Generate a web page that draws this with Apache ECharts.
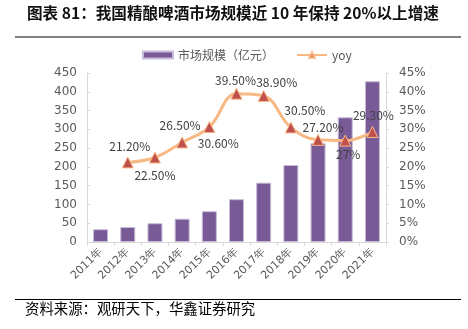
<!DOCTYPE html>
<html><head><meta charset="utf-8">
<script src="https://cdn.jsdelivr.net/npm/echarts@6/dist/echarts.min.js"></script>
<style>html,body{margin:0;padding:0;background:#fff;}#c{width:468px;height:329px;}</style>
</head><body><div id="c"></div>
<script>
var categories = ['2011年','2012年','2013年','2014年','2015年','2016年','2017年','2018年','2019年','2020年','2021年'];
var marketSize = [34, 40, 50, 62, 82, 114, 158, 205, 263, 332, 428];
var yoy = [null, 21.2, 22.5, 26.5, 30.6, 39.5, 38.9, 30.5, 27.2, 27, 29.3];
var leftTicks = [0, 50, 100, 150, 200, 250, 300, 350, 400, 450];
var rightTicks = [0, 5, 10, 15, 20, 25, 30, 35, 40, 45];
var title = '图表 81：我国精酿啤酒市场规模近 10 年保持 20%以上增速';
var source = '资料来源：观研天下，华鑫证券研究';

// label placement per point [dx, dy]
var labelOffsets = [null, [2,-16], [0,18], [-2,-17], [9,16], [-1,-13], [13,-13], [14,-17], [5,-12], [3,14], [1,-17]];

var chart = echarts.init(document.getElementById('c'), null, {renderer:'canvas'});
var cjk = '"Noto Sans CJK SC", sans-serif';
var yoyData = yoy.map(function(v, i){
  if (v === null) return null;
  var o = labelOffsets[i];
  return {value: v, label: {offset: [o[0], o[1]]}};
});
chart.setOption({
  animation: false,
  graphic: [
    {type:'text', left: 27, top: 5, style:{text: title, font: 'bold 15.6px ' + cjk, fill:'#111'}},
    {type:'line', shape:{x1:15, y1:37, x2:461, y2:37}, style:{stroke:'#7f7f7f', lineWidth:2}},
    {type:'line', shape:{x1:15, y1:299.5, x2:461, y2:299.5}, style:{stroke:'#000', lineWidth:1}},
    {type:'text', left: 25, top: 301, style:{text: source, font: '14.4px ' + cjk, fill:'#000'}}
  ],
  legend: {
    top: 44, left: 137, itemWidth: 30, itemHeight: 7, itemGap: 22,
    textStyle: {fontSize: 12, color: '#595959', fontFamily: cjk},
    data: [{name:'市场规模（亿元）', icon:'rect'}, {name:'yoy'}]
  },
  grid: {left: 87, right: 82, top: 73, bottom: 87},
  xAxis: {
    type: 'category', data: categories,
    axisLine: {lineStyle: {color: '#D9D9D9'}},
    axisTick: {show: true, length: 4, lineStyle: {color: '#D9D9D9'}},
    axisLabel: {rotate: 45, fontSize: 11, color: '#595959', margin: 8, fontFamily: 'Verdana, "DejaVu Sans", sans-serif'}
  },
  yAxis: [
    {type:'value', min: 0, max: 450, interval: 50, splitLine:{show:false},
     axisLine:{show:true, lineStyle:{color:'#D9D9D9'}},
     axisTick:{show:true, inside:true, length:3, lineStyle:{color:'#D9D9D9'}},
     axisLabel:{fontSize: 12, color:'#595959', margin: 10, fontFamily: 'Verdana, "DejaVu Sans", sans-serif'}},
    {type:'value', min: 0, max: 45, interval: 5, splitLine:{show:false},
     axisLine:{show:true, lineStyle:{color:'#D9D9D9'}},
     axisTick:{show:true, length:3, lineStyle:{color:'#D9D9D9'}},
     axisLabel:{fontSize: 12, color:'#595959', margin: 13, formatter: '{value}%', fontFamily: 'Verdana, "DejaVu Sans", sans-serif'}}
  ],
  series: [
    {name:'市场规模（亿元）', type:'bar', data: marketSize, barWidth: 15,
     itemStyle:{color:'#775A96', borderColor:'#C9BCD9', borderWidth:1}},
    {name:'yoy', type:'line', yAxisIndex: 1, data: yoyData, smooth: 0.4, connectNulls: true,
     symbol:'triangle', symbolSize: 11,
     lineStyle:{color:'#F7B984', width: 3},
     itemStyle:{color:'#C0504D', borderColor:'#F7B984', borderWidth: 1},
     label:{show:true, position:'inside', color:'#404040', fontSize: 12, fontFamily: cjk,
       formatter: function(p){ var v = p.value; return Number.isInteger(v) ? v + '%' : v.toFixed(2) + '%'; }}}
  ]
});
</script></body></html>
